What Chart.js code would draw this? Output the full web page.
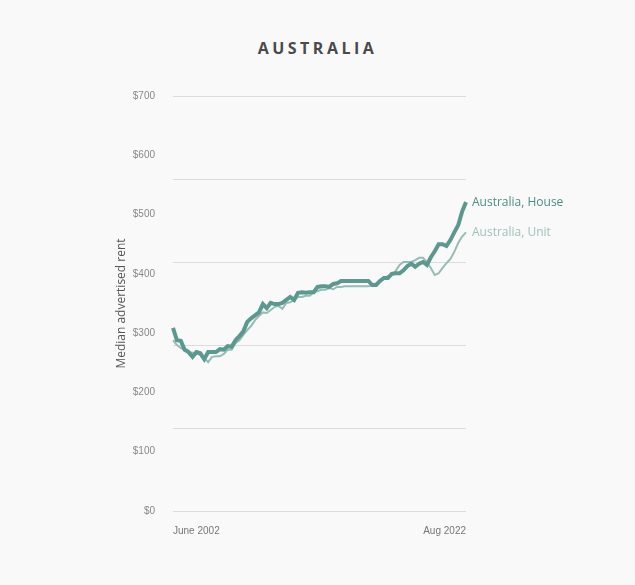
<!DOCTYPE html>
<html>
<head>
<meta charset="utf-8">
<script src="https://cdn.jsdelivr.net/npm/chart.js@4.4.0/dist/chart.umd.min.js"></script>
<style>
  html, body { margin: 0; padding: 0; background: #f9f9f9; }
  #wrap { position: relative; width: 635px; height: 585px; }
  #title {
    position: absolute; top: 37px; left: 0; width: 635px; text-align: center;
    font-family: "Open Sans", sans-serif; font-weight: 700; font-size: 16px;
    letter-spacing: 3.5px; color: #4a4a4a;
  }
  canvas { position: absolute; top: 0; left: 0; }
</style>
</head>
<body>
<div id="wrap">
  <div id="title">AUSTRALIA</div>
  <canvas id="chart" width="635" height="585"></canvas>
</div>
<script>
const tickLabels = ['June 2002', 'Aug 2022'];
const seriesNames = ['Australia, House', 'Australia, Unit'];

// median advertised weekly rent, sampled roughly every 3 months
const houseRent = [
    309, 288, 287, 272, 268, 260, 268, 266, 256, 268, 268, 268, 273, 272, 278, 277,
    288, 295, 303, 319, 325, 330, 335, 349, 342, 351, 349, 349, 351, 356, 361, 356,
    368, 369, 368, 369, 369, 378, 379, 379, 378, 383, 384, 388, 388, 388, 388, 388,
    388, 388, 388, 381, 381, 388, 393, 393, 400, 401, 401, 406, 413, 417, 412, 417,
    420, 415, 428, 438, 450, 450, 447, 457, 470, 482, 505, 521
];
const unitRent = [
    288, 280, 275, 272, 268, 267, 266, 263, 258, 251, 260, 261, 261, 265, 272, 272,
    283, 288, 297, 305, 312, 322, 329, 335, 334, 339, 344, 346, 341, 351, 352, 356,
    361, 361, 363, 363, 369, 371, 373, 373, 376, 374, 378, 378, 379, 379, 379, 379,
    379, 379, 379, 381, 384, 390, 393, 396, 398, 405, 415, 420, 420, 420, 423, 427,
    427, 420, 410, 398, 401, 410, 418, 425, 437, 452, 463, 470
];

const labels = houseRent.map((v, i) => i === 0 ? tickLabels[0] : (i === houseRent.length - 1 ? tickLabels[1] : ''));

const houseColor = '#5b9890';
const unitColor = '#96bcb6';

const endLabels = {
    id: 'endLabels',
    afterDatasetsDraw(chart) {
        const ctx = chart.ctx;
        ctx.save();
        ctx.font = '12px "Open Sans", sans-serif';
        ctx.textBaseline = 'middle';
        chart.data.datasets.forEach((ds, i) => {
            const meta = chart.getDatasetMeta(i);
            const pt = meta.data[meta.data.length - 1];
            ctx.fillStyle = i === 0 ? '#4f8c84' : '#9cc2bc';
            ctx.fillText(seriesNames[i], pt.x + 6, pt.y);
        });
        ctx.restore();
    }
};

new Chart(document.getElementById('chart').getContext('2d'), {
    type: 'line',
    data: {
        labels: labels,
        datasets: [
            { label: seriesNames[0], data: houseRent, borderColor: houseColor, borderWidth: 4, pointRadius: 0, tension: 0, yAxisID: 'y' },
            { label: seriesNames[1], data: unitRent, borderColor: unitColor, borderWidth: 2, pointRadius: 0, tension: 0, yAxisID: 'y' }
        ]
    },
    plugins: [endLabels],
    options: {
        responsive: false,
        animation: false,
        layout: { padding: { left: 114, right: 169, top: 96, bottom: 44 } },
        plugins: { legend: { display: false }, tooltip: { enabled: false } },
        scales: {
            x: {
                grid: { display: false },
                border: { display: false },
                ticks: {
                    autoSkip: false, maxRotation: 0, align: 'inner', padding: 6,
                    color: '#777', font: { family: 'Liberation Sans', size: 10 },
                    callback: (v, i) => labels[i]
                },
                afterFit: s => { s.height = 30; }
            },
            y: {
                min: 0, max: 700,
                grid: { display: false },
                border: { display: false },
                ticks: {
                    stepSize: 100, padding: 10,
                    color: '#888', font: { family: 'Liberation Sans', size: 10 },
                    callback: v => '$' + v
                },
                title: {
                    display: true, text: 'Median advertised rent', color: '#555',
                    font: { family: 'Open Sans', size: 12 }, padding: 0
                },
                afterFit: s => { s.width = 59; }
            },
            y2: {
                position: 'left',
                min: 0, max: 700,
                grid: { color: '#dcdcdc', drawTicks: false },
                border: { display: false },
                ticks: { display: false, stepSize: 140 },
                afterFit: s => { s.width = 0; }
            }
        }
    }
});
</script>
</body>
</html>
